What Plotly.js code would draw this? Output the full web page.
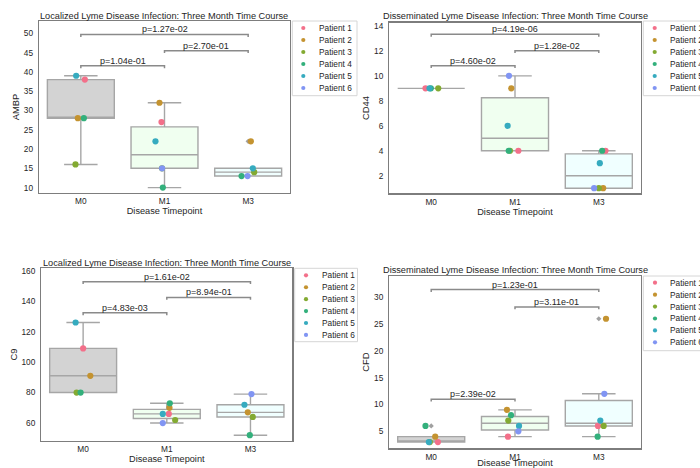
<!DOCTYPE html>
<html><head><meta charset="utf-8">
<script src="https://cdn.plot.ly/plotly-3.0.1.min.js"></script>
<style>html,body{margin:0;padding:0;background:#fff}#chart{width:700px;height:468px}</style>
</head><body><div id="chart"></div>
<script>
// ---------------- data ----------------
const timepoints = ['M0', 'M1', 'M3'];
const patients = ['Patient 1', 'Patient 2', 'Patient 3', 'Patient 4', 'Patient 5', 'Patient 6'];

// AMBP – localized infection (values per patient 1..6, null = no sample)
const ambpM0 = [38, 28, 16, 28, 39, null];
const ambpM1 = [27, 32, 15, 10, 22, 15];
const ambpM3 = [null, 22, 14, 13, 15, 13];
const ambpPvals = ['p=1.04e-01', 'p=2.70e-01', 'p=1.27e-02'];

// CD44 – disseminated infection
const cd44M0 = [9, null, 9, 9, 9, null];
const cd44M1 = [4, 9, 4, 4, 6, 10];
const cd44M3 = [4, 1, 1, 4, 3, 1];
const cd44Pvals = ['p=4.60e-02', 'p=1.28e-02', 'p=4.19e-06'];

// C9 – localized infection
const c9M0 = [109, 91, 80, 80, 126, null];
const c9M1 = [66, 70, 62, 73, 66, 60];
const c9M3 = [null, 67, 64, 52, 72, 79];
const c9Pvals = ['p=4.83e-03', 'p=8.94e-01', 'p=1.61e-02'];

// CFD – disseminated infection
const cfdM0 = [3, 4, 3, 6, 3, null];
const cfdM1 = [4, 9, 7, 8, 6, 5];
const cfdM3 = [6, 26, 6, 4, 7, 12];
const cfdPvals = ['p=2.39e-02', 'p=3.11e-01', 'p=1.23e-01'];

// comparison pairs (indices into timepoints)
const pairs = [[0, 1], [1, 2], [0, 2]];

// ---------------- styles ----------------
const FONT = 'Liberation Sans, Arial, Helvetica, sans-serif';
const TXT = '#262626';
const patientColors = ['#f3708a', '#c49330', '#83aa32', '#33b07c', '#36abbf', '#8195f3'];
const boxFills = ['#d3d3d3', '#f0fff0', '#f0ffff'];
const boxLine = '#a6a6a6';
const frameColor = '#7d7d7d';
const W = 700, H = 468;

// strip-plot jitter (horizontal offsets, category units), per panel/timepoint/patient
const jitter = {
  ambp: [[0.048, -0.036, -0.064, 0.036, -0.056, 0], [-0.036, -0.06, -0.03, -0.02, -0.108, -0.029], [0, 0.032, 0.072, -0.079, 0.056, -0.007]],
  cd44: [[-0.068, -0.03, 0.084, -0.004, -0.02, 0], [0.04, -0.044, -0.06, -0.075, -0.088, -0.072], [0.08, 0.052, 0, 0.04, 0.012, -0.056]],
  c9:   [[0, 0.086, -0.078, -0.03, -0.09, 0], [0.024, 0.032, 0.1, 0.036, -0.048, -0.048], [0, -0.032, 0.028, -0.008, -0.072, 0.012]],
  cfd:  [[0.08, 0.048, -0.016, -0.068, -0.028, 0], [-0.084, -0.096, -0.08, -0.048, 0.048, 0.04], [-0.01, 0.086, 0.058, -0.014, 0.018, 0.066]]
};

// panel geometry in pixels
const panels = [
  {key: 'ambp', title: 'Localized Lyme Disease Infection: Three Month Time Course', ylab: 'AMBP',
   data: [ambpM0, ambpM1, ambpM3], pv: ambpPvals, levels: [41.6, 45.5, 49.7],
   px: [39, 290], py: [21, 193], yr: [8.6, 53.2], dt: 5, titleXY: [164, 15.7],
   legend: {box: [292.3, 357, 21, 95.7], mx: 303.3, tx: 319.3, y0: 28, dy: 12}},
  {key: 'cd44', title: 'Disseminated Lyme Disease Infection: Three Month Time Course', ylab: 'CD44',
   data: [cd44M0, cd44M1, cd44M3], pv: cd44Pvals, levels: [10.82, 12.02, 13.33],
   px: [389.3, 640.7], py: [22.7, 193.3], yr: [0.59, 14.26], dt: 2, titleXY: [515.3, 15.7],
   legend: {box: [643.3, 720, 21, 95.7], mx: 654.7, tx: 670, y0: 28, dy: 12}},
  {key: 'c9', title: 'Localized Lyme Disease Infection: Three Month Time Course', ylab: 'C9',
   data: [c9M0, c9M1, c9M3], pv: c9Pvals, levels: [132.4, 142.5, 152.8],
   px: [41.3, 292.3], py: [268.3, 440.7], yr: [48.4, 161.6], dt: 20, titleXY: [166.8, 263.3],
   legend: {box: [294.7, 357.5, 268.3, 341.7], mx: 306, tx: 321.7, y0: 275.3, dy: 11.93}},
  {key: 'cfd', title: 'Disseminated Lyme Disease Infection: Three Month Time Course', ylab: 'CFD',
   data: [cfdM0, cfdM1, cfdM3], pv: cfdPvals, levels: [11.0, 28.2, 31.43],
   px: [389.3, 640.7], py: [276, 448.3], yr: [1.83, 33.97], dt: 5, titleXY: [515.3, 270],
   legend: {box: [643.3, 720, 276, 350.7], mx: 655, tx: 670, y0: 282.7, dy: 11.93}}
];

// numpy-style linear percentile
function pct(sorted, p) {
  const pos = (sorted.length - 1) * p, lo = Math.floor(pos), hi = Math.ceil(pos);
  return sorted[lo] + (sorted[hi] - sorted[lo]) * (pos - lo);
}
function boxStats(vals) {
  const s = vals.filter(v => v !== null).sort((a, b) => a - b);
  const q1 = pct(s, 0.25), med = pct(s, 0.5), q3 = pct(s, 0.75), iqr = q3 - q1;
  const inside = s.filter(v => v >= q1 - 1.5 * iqr && v <= q3 + 1.5 * iqr);
  const fliers = s.filter(v => v < q1 - 1.5 * iqr || v > q3 + 1.5 * iqr);
  return {q1, med, q3, lo: Math.min(...inside), hi: Math.max(...inside), fliers};
}

const traces = [];
const layout = {
  width: W, height: H, margin: {l: 0, r: 0, t: 0, b: 0},
  paper_bgcolor: '#ffffff', plot_bgcolor: 'rgba(0,0,0,0)', showlegend: false,
  font: {family: FONT, color: TXT, size: 9},
  annotations: [], shapes: []
};

panels.forEach((p, i) => {
  const n = i + 1, xa = 'x' + n, ya = 'y' + n;
  const xk = 'xaxis' + (n === 1 ? '' : n), yk = 'yaxis' + (n === 1 ? '' : n);
  const span = p.yr[1] - p.yr[0];
  const pxPerUnit = (p.py[1] - p.py[0]) / span;
  const ticks = [];
  for (let t = Math.ceil(p.yr[0] / p.dt) * p.dt; t <= p.yr[1]; t += p.dt) ticks.push(t);
  layout[xk] = {
    domain: [p.px[0] / W, p.px[1] / W], anchor: ya, range: [-0.5, 2.5],
    tickmode: 'array', tickvals: [0, 1, 2], ticktext: timepoints, ticks: '',
    showgrid: false, zeroline: false, showline: true, mirror: true, linecolor: frameColor, linewidth: 1.3,
    tickfont: {size: 8.3, color: TXT, family: FONT}, ticklabelstandoff: 0,
    title: {text: 'Disease Timepoint', font: {size: 9.2, color: TXT, family: FONT}, standoff: 1}
  };
  layout[yk] = {
    domain: [1 - p.py[1] / H, 1 - p.py[0] / H], anchor: xa, range: p.yr,
    tickmode: 'array', tickvals: ticks, ticks: '',
    showgrid: false, zeroline: false, showline: true, mirror: true, linecolor: frameColor, linewidth: 1.3,
    tickfont: {size: 8.3, color: TXT, family: FONT}, ticklabelstandoff: 3,
    title: {text: p.ylab, font: {size: 9.4, color: TXT, family: FONT}, standoff: 2}
  };
  // boxes
  p.data.forEach((vals, k) => {
    const st = boxStats(vals);
    traces.push({
      type: 'box', xaxis: xa, yaxis: ya, x: [k], q1: [st.q1], median: [st.med], q3: [st.q3],
      lowerfence: [st.lo], upperfence: [st.hi], width: 0.8, whiskerwidth: 0.5,
      fillcolor: boxFills[k], line: {color: boxLine, width: 1.4}, boxpoints: false, hoverinfo: 'skip'
    });
    if (st.fliers.length) {
      traces.push({
        type: 'scatter', mode: 'markers', xaxis: xa, yaxis: ya,
        x: st.fliers.map(() => k), y: st.fliers,
        marker: {symbol: 'diamond', size: 4, color: '#a0a0a0'}, hoverinfo: 'skip'
      });
    }
  });
  // patient points
  patients.forEach((name, pi) => {
    traces.push({
      type: 'scatter', mode: 'markers', name: name, xaxis: xa, yaxis: ya,
      x: p.data.map((vals, k) => k + jitter[p.key][k][pi]),
      y: p.data.map(vals => vals[pi]),
      marker: {size: 6.2, color: patientColors[pi]}, cliponaxis: false
    });
  });
  // significance brackets
  const drop = 2.4 / pxPerUnit;
  pairs.forEach(([a, b], j) => {
    const yT = p.levels[j];
    traces.push({
      type: 'scatter', mode: 'lines', xaxis: xa, yaxis: ya, hoverinfo: 'skip',
      x: [a, a, b, b], y: [yT - drop, yT, yT, yT - drop],
      line: {color: '#8a8a8a', width: 1.5}
    });
    layout.annotations.push({
      xref: xa, yref: ya, x: (a + b) / 2, y: yT, yanchor: 'bottom', xanchor: 'center',
      text: p.pv[j], showarrow: false, font: {size: 9, color: TXT, family: FONT}, yshift: -2
    });
  });
  // panel title
  layout.annotations.push({
    xref: 'paper', yref: 'paper', x: p.titleXY[0] / W, y: 1 - p.titleXY[1] / H,
    xanchor: 'center', yanchor: 'middle', text: p.title, showarrow: false,
    font: {size: 9.2, color: TXT, family: FONT}
  });
  // legend box + entries
  const L = p.legend;
  layout.shapes.push({
    type: 'rect', xref: 'paper', yref: 'paper', layer: 'below',
    x0: L.box[0] / W, x1: L.box[1] / W, y0: 1 - L.box[3] / H, y1: 1 - L.box[2] / H,
    line: {color: '#d6d6d6', width: 1}, fillcolor: '#ffffff'
  });
  traces.push({
    type: 'scatter', mode: 'markers', xaxis: 'x5', yaxis: 'y5', hoverinfo: 'skip',
    x: patients.map(() => L.mx), y: patients.map((_, k) => L.y0 + k * L.dy),
    marker: {size: 4.2, color: patientColors}, cliponaxis: false
  });
  patients.forEach((name, k) => {
    layout.annotations.push({
      xref: 'paper', yref: 'paper', x: (L.tx - 2) / W, y: 1 - (L.y0 + k * L.dy) / H,
      xanchor: 'left', yanchor: 'middle', text: name, showarrow: false,
      font: {size: 8.3, color: TXT, family: FONT}
    });
  });
});

// pixel overlay axis for legend glyphs
layout.xaxis5 = {domain: [0, 1], range: [0, W], visible: false, anchor: 'y5', fixedrange: true};
layout.yaxis5 = {domain: [0, 1], range: [H, 0], visible: false, anchor: 'x5', fixedrange: true};

Plotly.newPlot('chart', traces, layout, {staticPlot: true, displayModeBar: false});
</script>
</body></html>
